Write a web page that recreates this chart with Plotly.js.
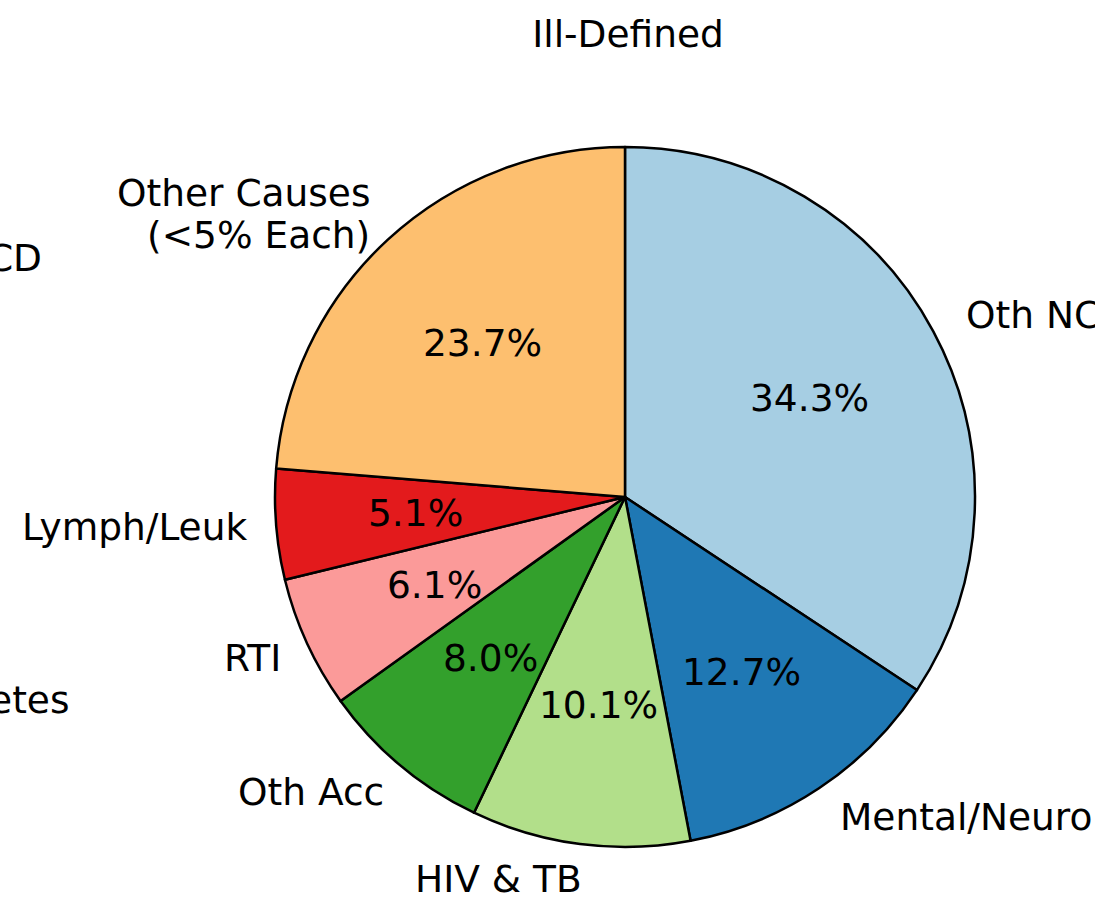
<!DOCTYPE html>
<html>
<head>
<meta charset="utf-8">
<script src="https://cdn.plot.ly/plotly-3.0.1.min.js"></script>
<style>html,body{margin:0;padding:0;background:#fff;}#chart{width:1095px;height:911px;}</style>
</head>
<body>
<div id="chart"></div>
<script>
// Data
const labels = ["Oth NCD", "Mental/Neuro", "HIV & TB", "Oth Acc", "RTI", "Lymph/Leuk", "Other Causes<br>(&lt;5% Each)"];
const values = [34.3, 12.7, 10.1, 8.0, 6.1, 5.1, 23.7];
const colors = ["#a6cee3", "#1f78b4", "#b2df8a", "#33a02c", "#fb9a99", "#e31a1c", "#fdbf6f"];
const chartTitle = "Ill-Defined";
const neighbourLabels = ["Oth CD", "Diabetes"];

// Layout constants (pixels)
const W = 1095, H = 911;
const cx = 625, cy = 497, R = 350;
const FONT = "DejaVu Sans, Liberation Sans, sans-serif";
const FS = 37.5;
const RIGHT_PAD = 8;
const LINE_GAP = 42;

const px2x = p => p / W;
const py2y = p => 1 - p / H;

const total = values.reduce((a, b) => a + b, 0);
const annotations = [];
let cum = 0;
values.forEach((v, i) => {
  const t1 = 90 - 360 * cum / total;
  const t2 = 90 - 360 * (cum + v) / total;
  cum += v;
  const mid = (t1 + t2) / 2 * Math.PI / 180;
  const c = Math.cos(mid), s = Math.sin(mid);
  // percentage at 0.6 r
  annotations.push({
    x: px2x(cx + 0.6 * R * c), y: py2y(cy - 0.6 * R * s),
    xref: "paper", yref: "paper", showarrow: false,
    text: (100 * v / total).toFixed(1) + "%",
    xanchor: "center", yanchor: "middle",
    font: {family: FONT, size: FS, color: "#000"}
  });
  // label at 1.1 r (multi-line labels stacked with matplotlib-like spacing)
  const lx = cx + 1.1 * R * c + (c > 0 ? 0 : RIGHT_PAD);
  const ly = cy - 1.1 * R * s;
  const lines = labels[i].split("<br>");
  lines.forEach((ln, k) => {
    const off = (k - (lines.length - 1) / 2) * LINE_GAP;
    annotations.push({
      x: px2x(lx), y: py2y(ly + off),
      xref: "paper", yref: "paper", showarrow: false,
      text: ln,
      xanchor: c > 0 ? "left" : "right", yanchor: "middle",
      font: {family: FONT, size: FS, color: "#000"}
    });
  });
});
// labels belonging to a neighbouring panel, cut off at the left edge
annotations.push({x: px2x(44), y: py2y(258), xref: "paper", yref: "paper", showarrow: false,
  text: neighbourLabels[0], xanchor: "right", yanchor: "middle", font: {family: FONT, size: FS, color: "#000"}});
annotations.push({x: px2x(71), y: py2y(700), xref: "paper", yref: "paper", showarrow: false,
  text: neighbourLabels[1], xanchor: "right", yanchor: "middle", font: {family: FONT, size: FS, color: "#000"}});

const trace = {
  type: "pie",
  labels: labels,
  values: values,
  sort: false,
  direction: "clockwise",
  rotation: 0,
  textinfo: "none",
  hoverinfo: "label+percent",
  marker: {colors: colors, line: {color: "#000", width: 2.5}},
  domain: {x: [px2x(cx - R), px2x(cx + R)], y: [py2y(cy + R), py2y(cy - R)]},
  showlegend: false
};

const layout = {
  width: W, height: H,
  margin: {l: 0, r: 0, t: 0, b: 0},
  paper_bgcolor: "#fff",
  title: {text: chartTitle, x: px2x(628), xanchor: "center", y: 1 - 34 / H, yanchor: "middle",
          yref: "container", xref: "container", font: {family: FONT, size: FS, color: "#000"}},
  annotations: annotations,
  showlegend: false
};

Plotly.newPlot("chart", [trace], layout, {displayModeBar: false, staticPlot: true});
</script>
</body>
</html>
